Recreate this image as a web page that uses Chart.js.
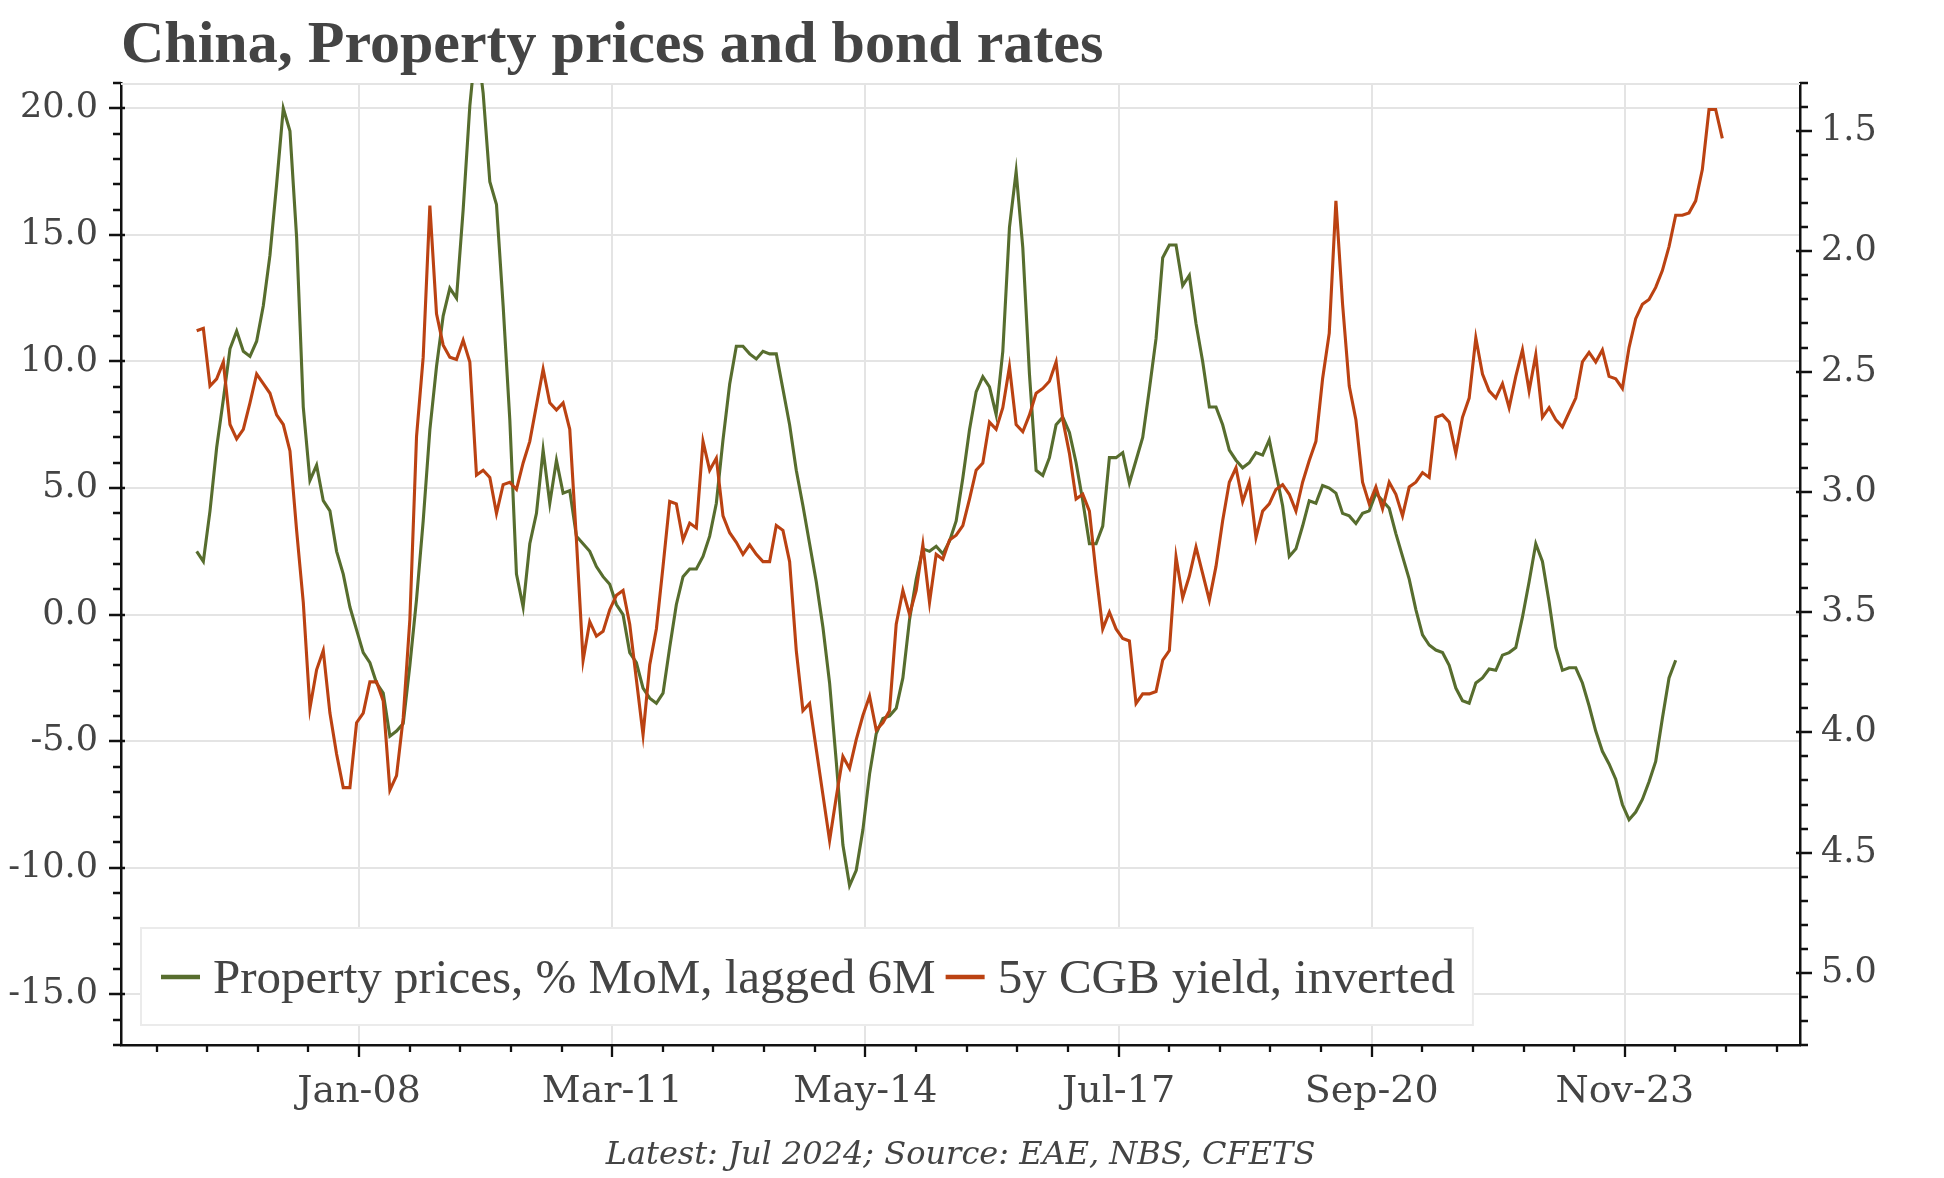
<!DOCTYPE html>
<html>
<head>
<meta charset="utf-8">
<title>China, Property prices and bond rates</title>
<script src="https://cdn.jsdelivr.net/npm/chart.js@4.4.1/dist/chart.umd.min.js"></script>
<style>
  html, body { margin: 0; padding: 0; background: #fff; }
</style>
</head>
<body>
<canvas id="chart" width="1944" height="1178"></canvas>
<script>
// 1. Data (monthly, first point = Jan 2006)
const firstMonth = 'Jan-06';

// Property prices, % MoM (annualised), lagged 6M  -> left axis
const propertyMoM = [
  2.5, 2.1, 4.1, 6.6, 8.5, 10.5, 11.2, 10.4, 10.2, 10.8, 12.2, 14.2,
  17.0, 20.0, 19.1, 14.9, 8.2, 5.3, 5.9, 4.5, 4.1, 2.5, 1.6, 0.3,
  -0.6, -1.5, -1.9, -2.7, -3.1, -4.8, -4.6, -4.3, -2.0, 0.6, 3.7, 7.3,
  9.8, 11.8, 12.9, 12.5, 16.0, 20.1, 22.8, 20.6, 17.1, 16.2, 12.2, 7.7,
  1.6, 0.3, 2.8, 4.0, 6.5, 4.4, 6.1, 4.8, 4.9, 3.1, 2.8, 2.5,
  1.9, 1.5, 1.2, 0.4, 0.0, -1.5, -1.9, -2.9, -3.3, -3.5, -3.1, -1.3,
  0.4, 1.5, 1.8, 1.8, 2.3, 3.1, 4.4, 6.9, 9.1, 10.6, 10.6, 10.3,
  10.1, 10.4, 10.3, 10.3, 8.9, 7.5, 5.7, 4.3, 2.8, 1.3, -0.5, -2.7,
  -5.8, -9.1, -10.7, -10.1, -8.5, -6.3, -4.7, -4.1, -4.0, -3.7, -2.5, -0.2,
  1.4, 2.6, 2.5, 2.7, 2.4, 2.9, 3.7, 5.4, 7.3, 8.8, 9.4, 9.0,
  7.9, 10.4, 15.3, 17.5, 14.5, 9.5, 5.7, 5.5, 6.2, 7.5, 7.8, 7.2,
  6.0, 4.5, 2.8, 2.8, 3.5, 6.2, 6.2, 6.4, 5.2, 6.1, 7.0, 8.9,
  10.9, 14.1, 14.6, 14.6, 13.0, 13.4, 11.5, 10.0, 8.2, 8.2, 7.5, 6.5,
  6.1, 5.8, 6.0, 6.4, 6.3, 6.9, 5.6, 4.3, 2.3, 2.6, 3.5, 4.5,
  4.4, 5.1, 5.0, 4.8, 4.0, 3.9, 3.6, 4.0, 4.1, 4.8, 4.5, 4.2,
  3.2, 2.3, 1.4, 0.2, -0.8, -1.2, -1.4, -1.5, -2.0, -2.9, -3.4, -3.5,
  -2.7, -2.5, -2.15, -2.2, -1.6, -1.5, -1.3, -0.1, 1.3, 2.8, 2.1, 0.5,
  -1.3, -2.2, -2.1, -2.1, -2.7, -3.6, -4.6, -5.4, -5.9, -6.5, -7.5, -8.1,
  -7.8, -7.3, -6.6, -5.8, -4.1, -2.5, -1.8
];

// 5y CGB yield, % -> right axis, inverted
const cgbYield5y = [
  2.33, 2.32, 2.56, 2.53, 2.46, 2.72, 2.78, 2.74, 2.63, 2.51, 2.55, 2.59,
  2.68, 2.72, 2.83, 3.16, 3.46, 3.90, 3.74, 3.66, 3.92, 4.09, 4.23, 4.23,
  3.96, 3.92, 3.79, 3.79, 3.87, 4.24, 4.18, 3.94, 3.53, 2.77, 2.44, 1.81,
  2.26, 2.39, 2.44, 2.45, 2.37, 2.46, 2.93, 2.91, 2.94, 3.09, 2.97, 2.96,
  2.99, 2.88, 2.79, 2.64, 2.49, 2.63, 2.66, 2.63, 2.74, 3.20, 3.70, 3.54,
  3.60, 3.58, 3.49, 3.43, 3.41, 3.55, 3.78, 4.01, 3.72, 3.57, 3.31, 3.04,
  3.05, 3.20, 3.13, 3.15, 2.79, 2.91, 2.86, 3.10, 3.17, 3.21, 3.26, 3.22,
  3.26, 3.29, 3.29, 3.14, 3.16, 3.29, 3.66, 3.91, 3.88, 4.07, 4.26, 4.45,
  4.27, 4.10, 4.15, 4.03, 3.93, 3.85, 3.99, 3.96, 3.91, 3.55, 3.41, 3.51,
  3.41, 3.22, 3.46, 3.26, 3.28, 3.20, 3.18, 3.14, 3.03, 2.91, 2.88, 2.71,
  2.74, 2.65, 2.48, 2.72, 2.75, 2.68, 2.59, 2.57, 2.54, 2.46, 2.70, 2.84,
  3.03, 3.01, 3.08, 3.34, 3.57, 3.50, 3.57, 3.61, 3.62, 3.88, 3.84, 3.84,
  3.83, 3.70, 3.66, 3.27, 3.44, 3.35, 3.23, 3.34, 3.45, 3.31, 3.12, 2.96,
  2.90, 3.04, 2.96, 3.19, 3.08, 3.05, 2.99, 2.97, 3.01, 3.08, 2.96, 2.87,
  2.79, 2.53, 2.34, 1.79, 2.22, 2.56, 2.70, 2.96, 3.05, 2.98, 3.07, 2.96,
  3.01, 3.10, 2.98, 2.96, 2.92, 2.94, 2.69, 2.68, 2.71, 2.84, 2.69, 2.61,
  2.36, 2.51, 2.58, 2.61, 2.55, 2.65, 2.52, 2.41, 2.58, 2.43, 2.69, 2.65,
  2.70, 2.73, 2.67, 2.61, 2.46, 2.42, 2.46, 2.41, 2.52, 2.53, 2.57, 2.40,
  2.28, 2.22, 2.20, 2.15, 2.08, 1.98, 1.85, 1.85, 1.84, 1.79, 1.66, 1.41,
  1.41, 1.53
];

// Tick labels (x: months after the first data point)
const xTickLabels = ['Jan-08', 'Mar-11', 'May-14', 'Jul-17', 'Sep-20', 'Nov-23'];
const xTickMonths = [24, 62, 100, 138, 176, 214];
const leftTicks = [-15, -10, -5, 0, 5, 10, 15, 20];
const rightTicks = [1.5, 2.0, 2.5, 3.0, 3.5, 4.0, 4.5, 5.0];

const titleText = 'China, Property prices and bond rates';
const footerText = 'Latest: Jul 2024; Source: EAE, NBS, CFETS';

// 2. Styling
const GREEN = '#576d2e';
const RED = '#bb4212';
const TEXT = '#444444';
const GRID = '#e4e4e4';
const AXIS = '#111111';
const TICK_SHIFT = 0.37;   // date ticks sit a little right of the monthly points
const yTickFont = { family: '"DejaVu Serif", serif', size: 35 };
const xTickFont = { family: '"DejaVu Serif", serif', size: 38 };

const toPoints = arr => arr.map((v, i) => ({ x: i, y: v }));

// Tick marks, title, legend box and source line
const decorations = {
    id: 'decorations',
    beforeDatasetsDraw(chart) {
        const { ctx, chartArea: a } = chart;
        ctx.save();
        ctx.strokeStyle = GRID;
        ctx.lineWidth = 2;
        ctx.beginPath();
        ctx.moveTo(a.left, a.top + 1);
        ctx.lineTo(a.right, a.top + 1);
        ctx.stroke();
        ctx.restore();
    },
    afterDraw(chart) {
        const { ctx, chartArea: a, scales } = chart;
        ctx.save();

        // axis tick marks
        ctx.strokeStyle = AXIS;
        ctx.lineWidth = 2.3;
        ctx.beginPath();
        const yl = scales.yL;
        for (let v = Math.ceil(yl.min); v <= yl.max; v++) {
            const y = Math.round(yl.getPixelForValue(v));
            const major = v % 5 === 0;
            ctx.moveTo(a.left - (major ? 12 : 8), y);
            ctx.lineTo(a.left + (major ? 4 : 0), y);
        }
        const yr = scales.yR;
        for (let k = Math.round(yr.min * 10); k <= Math.round(yr.max * 10); k++) {
            const y = Math.round(yr.getPixelForValue(k / 10));
            const major = k % 5 === 0;
            ctx.moveTo(a.right - (major ? 4 : 0), y);
            ctx.lineTo(a.right + (major ? 12 : 8), y);
        }
        const xs = scales.x;
        const step = (xTickMonths[1] - xTickMonths[0]) / 5;
        const base = xTickMonths[0] + TICK_SHIFT;
        for (let t = -20; t <= 60; t++) {
            const v = base + t * step;
            if (v < xs.min || v > xs.max) continue;
            const x = Math.round(xs.getPixelForValue(v));
            ctx.moveTo(x, a.bottom);
            ctx.lineTo(x, a.bottom + (t % 5 === 0 ? 12 : 7));
        }
        // small overhang of the x axis past the left axis
        ctx.moveTo(a.left - 8, a.bottom);
        ctx.lineTo(a.left, a.bottom);
        ctx.stroke();

        // title
        ctx.fillStyle = TEXT;
        ctx.font = 'bold 60px "Liberation Serif", serif';
        ctx.textAlign = 'left';
        ctx.textBaseline = 'alphabetic';
        ctx.fillText(titleText, 121, 62);

        // source line
        ctx.font = 'italic 32px "DejaVu Serif", serif';
        ctx.textAlign = 'center';
        ctx.fillText(footerText, (a.left + a.right) / 2, 1164);

        // legend inside the plot, bottom left
        ctx.font = '49px "Liberation Serif", serif';
        ctx.textAlign = 'left';
        const sets = chart.data.datasets;
        const boxX = a.left + 20, boxY = 928, boxH = 97;
        let x = boxX + 20;
        const items = sets.map(ds => {
            const w = ctx.measureText(ds.label).width;
            const it = { ds, sx: x, tx: x + 52 };
            x = it.tx + w + 10;
            return it;
        });
        const boxW = x - 10 + 18 - boxX;
        ctx.fillStyle = '#ffffff';
        ctx.fillRect(boxX, boxY, boxW, boxH);
        ctx.strokeStyle = '#ebebeb';
        ctx.lineWidth = 2;
        ctx.strokeRect(boxX, boxY, boxW, boxH);
        items.forEach(it => {
            ctx.strokeStyle = it.ds.borderColor;
            ctx.lineWidth = 4.5;
            ctx.beginPath();
            ctx.moveTo(it.sx, 977);
            ctx.lineTo(it.sx + 39, 977);
            ctx.stroke();
            ctx.fillStyle = TEXT;
            ctx.fillText(it.ds.label, it.tx, 993);
        });

        ctx.restore();
    }
};

// 3. Chart
new Chart(document.getElementById('chart'), {
    type: 'line',
    data: {
        datasets: [{
            label: 'Property prices, % MoM, lagged 6M',
            data: toPoints(propertyMoM),
            yAxisID: 'yL',
            borderColor: GREEN,
            borderWidth: 3.1,
            pointRadius: 0,
            tension: 0,
            clip: 0,
            order: 2
        }, {
            label: '5y CGB yield, inverted',
            data: toPoints(cgbYield5y),
            yAxisID: 'yR',
            borderColor: RED,
            borderWidth: 3.1,
            pointRadius: 0,
            tension: 0,
            clip: 0,
            order: 1
        }]
    },
    options: {
        responsive: false,
        devicePixelRatio: 1,
        animation: false,
        events: [],
        layout: { padding: { top: 83, left: 0, right: 0, bottom: 0 } },
        plugins: {
            legend: { display: false },
            title: { display: false },
            tooltip: { enabled: false }
        },
        scales: {
            x: {
                type: 'linear',
                min: -11.36,
                max: 240.66,
                afterFit: s => { s.height = 133; },
                afterBuildTicks: s => { s.ticks = xTickMonths.map(m => ({ value: m + TICK_SHIFT })); },
                ticks: {
                    autoSkip: false,
                    maxRotation: 0,
                    padding: 24,
                    color: TEXT,
                    font: xTickFont,
                    callback: (v, i) => xTickLabels[i]
                },
                grid: { color: GRID, lineWidth: 2, drawTicks: false },
                border: { display: true, color: AXIS, width: 2.5 }
            },
            yL: {
                type: 'linear',
                position: 'left',
                min: -17,
                max: 21,
                afterFit: s => { s.width = 121; },
                afterBuildTicks: s => { s.ticks = leftTicks.map(v => ({ value: v })); },
                ticks: {
                    padding: 23,
                    color: TEXT,
                    font: yTickFont,
                    callback: v => Number(v).toFixed(1)
                },
                grid: { color: GRID, lineWidth: 2, drawTicks: false },
                border: { display: true, color: AXIS, width: 2.5 }
            },
            yR: {
                type: 'linear',
                position: 'right',
                reverse: true,
                min: 1.3,
                max: 5.3,
                afterFit: s => { s.width = 144; },
                afterBuildTicks: s => { s.ticks = rightTicks.map(v => ({ value: v })); },
                ticks: {
                    padding: 21,
                    color: TEXT,
                    font: yTickFont,
                    callback: v => Number(v).toFixed(1)
                },
                grid: { display: false, drawTicks: false },
                border: { display: true, color: AXIS, width: 2.5 }
            }
        }
    },
    plugins: [decorations]
});
</script>
</body>
</html>
